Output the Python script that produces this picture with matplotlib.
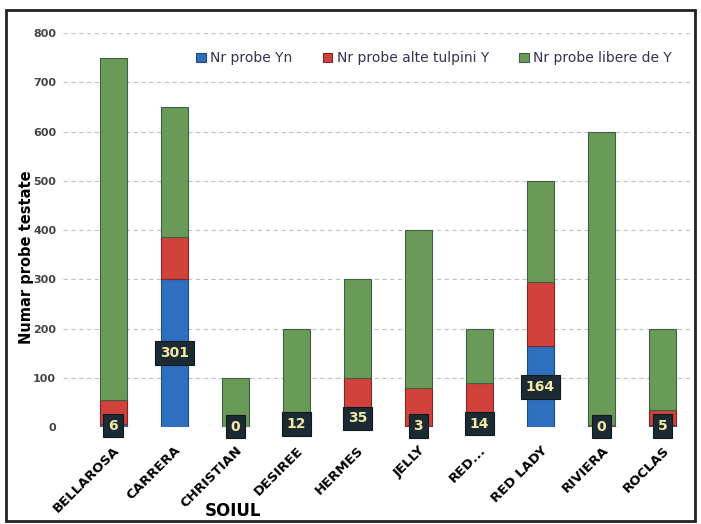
import numpy as np
import matplotlib.pyplot as plt
from matplotlib.patches import FancyBboxPatch

soiuri = ['BELLAROSA', 'CARRERA', 'CHRISTIAN', 'DESIREE', 'HERMES',
          'JELLY', 'RED...', 'RED LADY', 'RIVIERA', 'ROCLAS']
probe_yn = [6, 301, 0, 12, 35, 3, 14, 164, 0, 5]
probe_alte = [49, 84, 0, 0, 65, 77, 76, 131, 5, 30]
probe_libere = [695, 265, 100, 188, 200, 320, 110, 205, 595, 165]
serii = ['Nr probe Yn', 'Nr probe alte tulpini Y', 'Nr probe libere de Y']

c_blue = '#2f6fc0'
c_red = '#d2423c'
c_green = '#6a9a58'

fig = plt.figure(figsize=(7.01, 5.24), dpi=100)
ax = fig.add_axes([0.09, 0.185, 0.897, 0.752])

x = np.arange(len(soiuri))
w = 0.44
yn = np.array(probe_yn)
alte = np.array(probe_alte)
lib = np.array(probe_libere)

ax.bar(x, yn, w, color=c_blue, edgecolor='#244a7a', linewidth=0.8,
       label=serii[0], zorder=3)
ax.bar(x, alte, w, bottom=yn, color=c_red, edgecolor='#7a2a26',
       linewidth=0.8, label=serii[1], zorder=3)
ax.bar(x, lib, w, bottom=yn + alte, color=c_green, edgecolor='#3f5f44',
       linewidth=0.8, label=serii[2], zorder=3)

# data labels for Yn
for xi, v in zip(x, yn):
    ax.text(xi, max(v / 2, 1), str(v), ha='center', va='center',
            fontsize=10, color='#f2e9a8', fontweight='bold', zorder=5,
            bbox=dict(boxstyle='square,pad=0.35', fc='#1c2a33',
                      ec='#10181e', lw=0.8))

ax.set_xlim(-0.82, 9.48)
ax.set_ylim(0, 800)
ax.set_yticks(range(0, 801, 100))
ax.grid(True, axis='y', linestyle=(0, (4, 3)), color='#b8c4d4',
        linewidth=0.8, zorder=0)
for s in ax.spines.values():
    s.set_visible(False)
ax.tick_params(axis='both', length=0)
ax.tick_params(axis='y', labelsize=8, labelcolor='#444444', pad=5)
for t in ax.get_yticklabels():
    t.set_fontweight('bold')

ax.set_xticks(x)
ax.set_xticklabels(soiuri, rotation=45, ha='right', rotation_mode='anchor',
                   fontsize=9.5, fontweight='bold')
ax.tick_params(axis='x', pad=12)

ax.set_ylabel('Numar probe testate', fontsize=10.5, fontweight='bold')
ax.yaxis.set_label_coords(-0.047, 0.43)
ax.set_xlabel('SOIUL', fontsize=12, fontweight='bold')
ax.xaxis.set_label_coords(0.27, -0.19)

ax.legend(loc='upper center', bbox_to_anchor=(0.59, 0.985), ncol=3,
          frameon=False, fontsize=10, handlelength=0.7, handleheight=0.7,
          handletextpad=0.3, columnspacing=2.2,
          labelcolor='#333355')

# outer frame of chart
frame = FancyBboxPatch((0.008, 0.006), 0.984, 0.975,
                       boxstyle='square,pad=0', transform=fig.transFigure,
                       fill=False, edgecolor='#222222', linewidth=2.0)
fig.patches.append(frame)

fig.savefig('out.png', dpi=100)
